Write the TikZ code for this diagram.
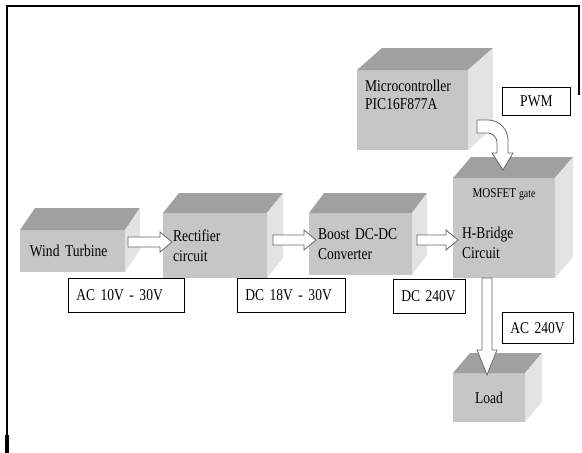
\documentclass[tikz,border=0pt]{standalone}
\usepackage{fontspec}
\setmainfont{Liberation Serif}[FakeStretch=0.82]
\usetikzlibrary{calc}
\definecolor{frontgray}{HTML}{C6C6C6}
\definecolor{topgray}{HTML}{A0A0A0}
\definecolor{sidegray}{HTML}{E3E3E3}
\definecolor{arrowgray}{HTML}{666666}
\tikzset{face/.style={fill=frontgray,draw=none,outer sep=0pt,inner sep=0pt,anchor=north west,align=left},
  tag/.style={draw,fill=white,line width=.8pt,minimum height=34,anchor=north west,inner xsep=8pt,align=left},
  blockarrow/.style={draw=arrowgray,fill=white,line width=.8pt,line join=miter}}
\newcommand{\cubesides}[3]{%
  \fill[topgray] (#1.north west) -- ++(#2,-#3) -- ($(#1.north east)+(#2,-#3)$) -- (#1.north east) -- cycle;
  \fill[sidegray] (#1.north east) -- ++(#2,-#3) -- ($(#1.south east)+(#2,-#3)$) -- (#1.south east) -- cycle;}
\newcommand{\harrow}[2]{\draw[blockarrow] ($(#1)+(0,-5)$) -- ($(#2)+(-12,-5)$) -- ($(#2)+(-12,-10)$) -- (#2)
  -- ($(#2)+(-12,10)$) -- ($(#2)+(-12,5)$) -- ($(#1)+(0,5)$) -- cycle;}
\newcommand{\varrow}[2]{\draw[blockarrow] ($(#1)+(-5,0)$) -- ($(#2)+(-5,-25)$) -- ($(#2)+(-10,-25)$) -- (#2)
  -- ($(#2)+(10,-25)$) -- ($(#2)+(5,-25)$) -- ($(#1)+(5,0)$) -- cycle;}
\begin{document}
\begin{tikzpicture}[x=1pt,y=-1pt,font=\fontsize{16.5}{20}\selectfont]
\useasboundingbox (0,0) rectangle (582,453);
\draw[line width=1.2pt] (7,453)--(7,6)--(579,6)--(579,95);\fill (5,435) rectangle (9,453);
% blocks
\node[face,minimum width=105,minimum height=42,text width=85] (wind) at (20,230) {Wind Turbine};\cubesides{wind}{15}{22}
\node[face,minimum width=104,minimum height=65,text width=84] (rect) at (163,213) {Rectifier\\circuit};\cubesides{rect}{16}{20}
\node[face,minimum width=103,minimum height=62,text width=85] (boost) at (309,213) {Boost DC-DC\\Converter};\cubesides{boost}{15}{20}
\node[face,minimum width=102,minimum height=100] (hbridge) at (453,178) {};\cubesides{hbridge}{18}{21}
\node[face,minimum width=111,minimum height=80] (micro) at (357,70) {};\cubesides{micro}{25}{22}
\node[face,minimum width=72,minimum height=49,align=center] (load) at (453,373) {Load};\cubesides{load}{17}{20}
\node[anchor=north west,inner sep=0pt,align=left,font=\fontsize{16.5}{18}\selectfont] (microtext) at ($(micro.north west)+(8,10)$) {Microcontroller\\PIC16F877A};
\node[anchor=north west,inner sep=0pt,align=left] (hbtext) at ($(hbridge.north west)+(9,49)$) {H-Bridge\\Circuit};
\node[inner sep=0pt] (gatetext) at ($(hbridge.north)+(0,16)$) {\fontsize{13.5}{14}\selectfont MOSFET {\fontsize{12}{14}\selectfont gate}};
% arrows
\coordinate (w1) at ($(wind.east)+(3,-9)$);\coordinate (r1) at ($(rect.west |- w1)+(9,0)$);\harrow{w1}{r1}
\coordinate (r2) at ($(rect.east)+(6,-5.5)$);\coordinate (b1) at ($(boost.west |- r2)+(7,0)$);\harrow{r2}{b1}
\coordinate (b2) at ($(boost.east)+(5,-4)$);\coordinate (h1) at ($(hbridge.west |- b2)+(5,0)$);\harrow{b2}{h1}
\coordinate (h2) at ($(hbridge.south -| load.north)+(-2,0)$);\coordinate (l1) at ($(load.north)+(-2,2)$);\varrow{h2}{l1}
\coordinate (pw1) at ($(micro.east)+(9,10)$);
\draw[blockarrow] (pw1) -- ++(11,0) .. controls +(12,0) and +(0,-10) .. ++(20,20) -- ++(0,13) -- ++(5,0) -- ++(-10,17)
  -- ++(-11,-17) -- ++(5,0) -- ++(0,-11) .. controls +(0,-5) and +(4,0) .. ++(-9,-9) -- ++(-11,0) -- cycle;
% labels
\node[tag,text width=100] (ac1) at (68,278) {AC 10V - 30V};
\node[tag,text width=92] (dc1) at (237,278) {DC 18V - 30V};
\node[tag,text width=56] (dc2) at (393,279) {DC 240V};
\node[tag,text width=55,minimum height=31] (ac2) at (502,312) {AC 240V};
\node[tag,text width=52,minimum height=28,align=center] (pwm) at (502,87) {PWM};
\end{tikzpicture}
\end{document}
